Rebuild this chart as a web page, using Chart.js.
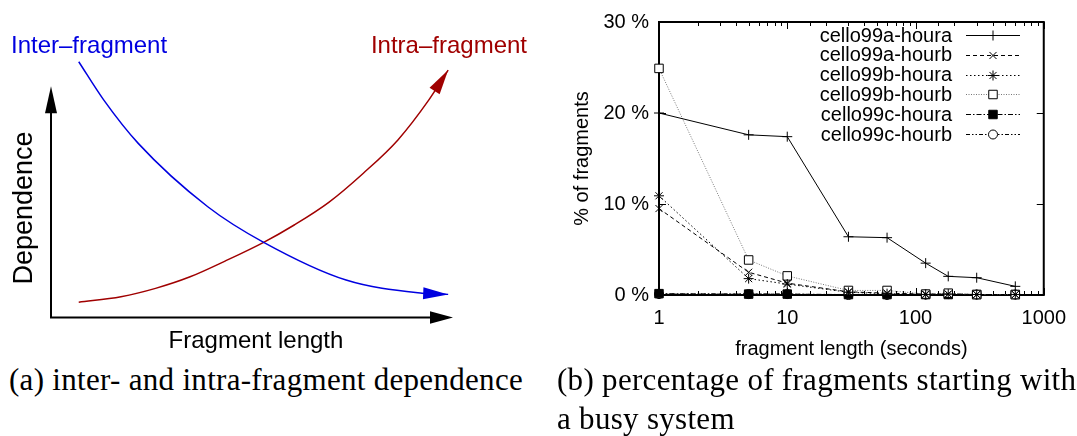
<!DOCTYPE html>
<html lang="en">
<head>
  <meta charset="UTF-8" />
  <title>Fragment dependence</title>
  <script src="https://cdn.jsdelivr.net/npm/chart.js@4"></script>
  <style>
    body { margin: 0; background: #fff; width: 1077px; height: 436px; position: relative; overflow: hidden; }
    #esquema { position: absolute; left: 0; top: 0; }
    #fragmentos { position: absolute; left: 540px; top: 0; }
    .legenda {
      position: absolute;
      font-family: 'Liberation Serif', 'Times New Roman', serif;
      font-size: 31px;
      line-height: 39px;
      letter-spacing: 0.3px;
      color: #000;
      white-space: nowrap;
    }
  </style>
</head>
<body>
  <canvas id="esquema" width="540" height="360"></canvas>
  <canvas id="fragmentos" width="537" height="361"></canvas>

  <div class="legenda" style="left: 9px; top: 360px;">(a) inter- and intra-fragment dependence</div>
  <div class="legenda" style="left: 557px; top: 360px;">(b) percentage of fragments starting with<br>a busy system</div>

  <script>
    // (a) sketch curves, in abstract units: fragment length 0..10, dependence 0..12
    var interX = [0.69, 1.31, 2.17, 3.90, 5.29, 7.34, 9.23, 9.88];
    var interY = [11.06, 9.41, 7.53, 4.79, 3.25, 1.62, 1.05, 1.00];
    var intraX = [0.69, 1.74, 2.60, 3.46, 4.33, 5.29, 6.05, 6.91, 7.77, 8.63, 9.40, 9.88];
    var intraY = [0.66, 0.90, 1.26, 1.76, 2.44, 3.25, 4.00, 4.98, 6.24, 7.68, 9.41, 10.70];
    var axisEnd = 10;

    // (b) fragment lengths in seconds and % of fragments per trace
    var lengths = [1, 5, 10, 30, 60, 120, 180, 300, 600];
    var aHoura = [20.0, 17.6, 17.4, 6.4, 6.3, 3.5, 2.05, 1.9, 0.95];
    var aHourb = [9.5, 2.5, 1.3, 0.35, 0.2, 0.1, 0.1, 0.05, 0.05];
    var bHoura = [10.9, 1.8, 1.2, 0.3, 0.15, 0.05, 0.1, 0.05, 0.05];
    var bHourb = [24.9, 3.85, 2.1, 0.5, 0.5, 0.1, 0.2, 0.05, 0.05];
    var cHoura = [0.15, 0.1, 0.1, 0.05, 0.05, 0.05, 0.05, 0.05, 0.05];
    var cHourb = [0.1, 0.1, 0.1, 0.0, 0.0, 0.05, 0.1, 0.05, 0.05];
    var traceNames = ['cello99a-houra', 'cello99a-hourb', 'cello99b-houra', 'cello99b-hourb', 'cello99c-houra', 'cello99c-hourb'];
    var xLabels = [1, 10, 100, 1000];
    var yLabels = [0, 10, 20, 30];

    var fonte = "'Liberation Sans', Arial, Helvetica, sans-serif";
    var azul = '#0000e0';
    var vermelho = '#a00000';

    function pontos(xs, ys) {
      var out = [];
      for (var i = 0; i < xs.length; i++) {
        out.push({ x: xs[i], y: ys[i] });
      }
      return out;
    }

    // filled triangle with its tip at (x1, y1), pointing away from (x0, y0)
    function seta(ctx, x0, y0, x1, y1, comp, larg, cor) {
      var ang = Math.atan2(y1 - y0, x1 - x0);
      ctx.save();
      ctx.translate(x1, y1);
      ctx.rotate(ang);
      ctx.beginPath();
      ctx.moveTo(0, 0);
      ctx.lineTo(-comp, -larg);
      ctx.lineTo(-comp, larg);
      ctx.closePath();
      ctx.fillStyle = cor;
      ctx.fill();
      ctx.restore();
    }

    var desenhoEsquema = {
      id: 'desenhoEsquema',
      afterDatasetsDraw: function(chart) {
        var ctx = chart.ctx;
        var sx = chart.scales.x;
        var sy = chart.scales.y;
        var x0 = sx.getPixelForValue(0);
        var y0 = sy.getPixelForValue(0);
        var xFim = sx.getPixelForValue(axisEnd);
        var yFim = sy.getPixelForValue(axisEnd);

        ctx.save();
        ctx.strokeStyle = '#000';
        ctx.lineWidth = 2;
        ctx.beginPath();
        ctx.moveTo(x0, yFim + 20);
        ctx.lineTo(x0, y0);
        ctx.lineTo(xFim - 18, y0);
        ctx.stroke();
        seta(ctx, x0, y0, x0, yFim, 27, 6, '#000');
        seta(ctx, x0, y0, xFim, y0, 23, 6.2, '#000');

        // arrowheads on the curve ends
        chart.data.datasets.forEach(function(ds, i) {
          var pts = chart.getDatasetMeta(i).data;
          var a = pts[pts.length - 2];
          var b = pts[pts.length - 1];
          seta(ctx, a.x, a.y, b.x, b.y, 25, 6, ds.borderColor);
        });

        ctx.font = '24px ' + fonte;
        ctx.textBaseline = 'alphabetic';
        ctx.fillStyle = azul;
        ctx.textAlign = 'left';
        ctx.fillText('Inter\u2013fragment', 11, 53);
        ctx.fillStyle = vermelho;
        ctx.textAlign = 'right';
        ctx.fillText('Intra\u2013fragment', 527, 53);

        ctx.fillStyle = '#000';
        ctx.textAlign = 'center';
        ctx.fillText('Fragment length', (x0 + xFim) / 2 + 4, 348);

        ctx.translate(32, 208);
        ctx.rotate(-Math.PI / 2);
        ctx.font = '27px ' + fonte;
        ctx.fillText('Dependence', 0, 0);
        ctx.restore();
      }
    };

    new Chart(document.getElementById('esquema'), {
      type: 'scatter',
      data: {
        datasets: [{
          label: 'Inter-fragment',
          data: pontos(interX, interY),
          showLine: true,
          borderColor: azul,
          borderWidth: 1.5,
          pointRadius: 0,
          cubicInterpolationMode: 'monotone',
          clip: false
        }, {
          label: 'Intra-fragment',
          data: pontos(intraX, intraY),
          showLine: true,
          borderColor: vermelho,
          borderWidth: 1.5,
          pointRadius: 0,
          cubicInterpolationMode: 'monotone',
          clip: false
        }]
      },
      options: {
        responsive: false,
        animation: false,
        layout: { padding: { left: 51, right: 87, top: 40, bottom: 42.5 } },
        plugins: { legend: { display: false }, tooltip: { enabled: false } },
        scales: {
          x: { display: false, min: 0, max: 10 },
          y: { display: false, min: 0, max: 12 }
        }
      },
      plugins: [desenhoEsquema]
    });

    // frame, inward tick marks and key for the gnuplot-style panel
    var molduraFragmentos = {
      id: 'molduraFragmentos',
      beforeDatasetsDraw: function(chart) {
        var ctx = chart.ctx;
        var area = chart.chartArea;
        var sx = chart.scales.x;
        var sy = chart.scales.y;
        ctx.save();
        ctx.strokeStyle = '#000';
        ctx.lineWidth = 2;
        ctx.strokeRect(area.left, area.top, area.right - area.left, area.bottom - area.top);

        ctx.lineWidth = 1;
        ctx.beginPath();
        sx.ticks.forEach(function(t) {
          var px = Math.round(sx.getPixelForValue(t.value)) + 0.5;
          var len = xLabels.indexOf(t.value) >= 0 ? 7 : 4;
          ctx.moveTo(px, area.bottom);
          ctx.lineTo(px, area.bottom - len);
          ctx.moveTo(px, area.top);
          ctx.lineTo(px, area.top + len);
        });
        yLabels.forEach(function(v) {
          var py = Math.round(sy.getPixelForValue(v)) + 0.5;
          ctx.moveTo(area.left, py);
          ctx.lineTo(area.left + 7, py);
          ctx.moveTo(area.right, py);
          ctx.lineTo(area.right - 7, py);
        });
        ctx.stroke();
        ctx.restore();
      },
      afterDatasetsDraw: function(chart) {
        var ctx = chart.ctx;
        ctx.save();
        ctx.font = '20px ' + fonte;
        ctx.textAlign = 'right';
        ctx.textBaseline = 'middle';
        chart.data.datasets.forEach(function(ds, i) {
          var y = 35 + i * 19.8;
          ctx.fillStyle = '#000';
          ctx.fillText(ds.label, 412, y + 1);

          ctx.strokeStyle = ds.borderColor;
          ctx.lineWidth = 1;
          ctx.setLineDash(ds.borderDash || []);
          ctx.beginPath();
          ctx.moveTo(426, Math.round(y) + 0.5);
          ctx.lineTo(480, Math.round(y) + 0.5);
          ctx.stroke();
          ctx.setLineDash([]);

          ctx.strokeStyle = '#000';
          ctx.fillStyle = ds.pointBackgroundColor;
          Chart.helpers.drawPoint(ctx, {
            pointStyle: ds.pointStyle,
            radius: ds.pointRadius,
            borderWidth: 1,
            rotation: 0
          }, 453, Math.round(y) + 0.5);
        });
        ctx.restore();
      }
    };

    function serie(i, valores, dash, cor, estilo, raio, fundo) {
      return {
        label: traceNames[i],
        data: pontos(lengths, valores),
        borderColor: cor,
        borderWidth: 1,
        borderDash: dash,
        pointStyle: estilo,
        pointRadius: raio,
        pointBorderColor: '#000',
        pointBackgroundColor: fundo,
        pointBorderWidth: 1,
        tension: 0,
        clip: false
      };
    }

    new Chart(document.getElementById('fragmentos'), {
      type: 'line',
      data: {
        datasets: [
          serie(0, aHoura, [], '#000', 'cross', 5, '#000'),
          serie(1, aHourb, [4, 3], '#000', 'crossRot', 5, '#000'),
          serie(2, bHoura, [1.5, 2.5], '#000', 'star', 5, '#000'),
          serie(3, bHourb, [1, 1.5], '#777', 'rect', 6, '#fff'),
          serie(4, cHoura, [5, 2, 1.5, 2], '#000', 'rect', 6, '#000'),
          serie(5, cHourb, [4, 2, 1.5, 2, 1.5, 2], '#000', 'circle', 4.5, '#fff')
        ]
      },
      options: {
        responsive: false,
        animation: false,
        layout: { padding: { left: 0, right: 33, top: 19, bottom: 0 } },
        plugins: { legend: { display: false }, tooltip: { enabled: false } },
        scales: {
          x: {
            type: 'logarithmic',
            min: 1,
            max: 1000,
            grid: { display: false, drawTicks: false },
            border: { display: false },
            ticks: {
              autoSkip: false,
              maxRotation: 0,
              padding: 11,
              color: '#000',
              font: { size: 20, family: fonte },
              callback: function(v) {
                return xLabels.indexOf(v) >= 0 ? String(v) : '';
              }
            },
            title: {
              display: true,
              text: 'fragment length (seconds)',
              color: '#000',
              font: { size: 20, family: fonte },
              padding: { top: 0, bottom: 0 }
            },
            afterFit: function(s) { s.height = 66; }
          },
          y: {
            min: 0,
            max: 30,
            grid: { display: false, drawTicks: false },
            border: { display: false },
            ticks: {
              stepSize: 10,
              padding: 10,
              color: '#000',
              font: { size: 20, family: fonte },
              callback: function(v) { return v + ' %'; }
            },
            title: {
              display: true,
              text: '% of fragments',
              color: '#000',
              font: { size: 20, family: fonte },
              padding: { top: 30, bottom: 0 }
            },
            afterFit: function(s) { s.width = 119; }
          }
        }
      },
      plugins: [molduraFragmentos]
    });
  </script>
</body>
</html>
